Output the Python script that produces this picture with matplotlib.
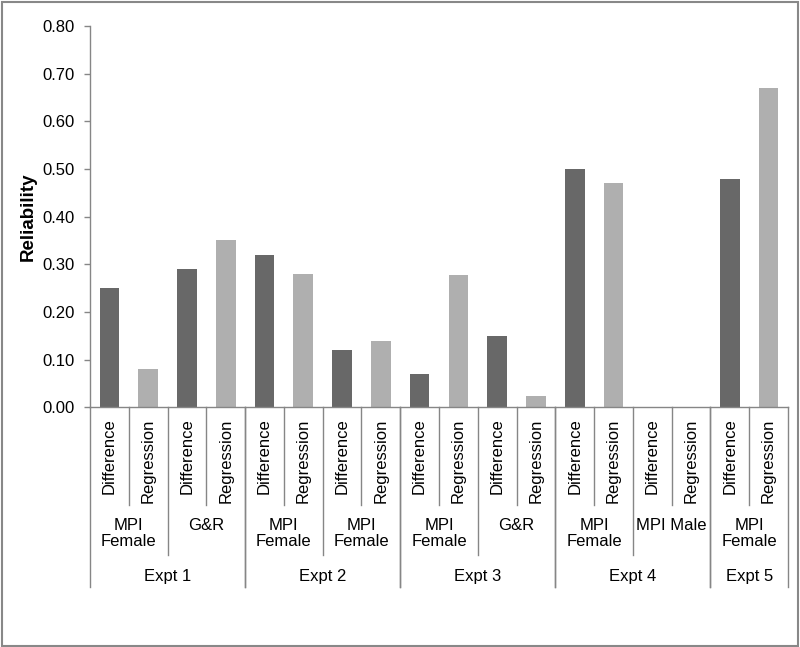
import matplotlib.pyplot as plt
import matplotlib.transforms as mtransforms
from matplotlib.patches import Rectangle

plt.rcParams['font.family'] = ['Liberation Sans', 'DejaVu Sans']

methods = ['Difference', 'Regression'] * 9
reliability = [0.25, 0.08, 0.29, 0.35, 0.32, 0.28, 0.12, 0.14, 0.07, 0.277,
               0.15, 0.024, 0.50, 0.47, 0.0, 0.0, 0.48, 0.67]
groups = ['MPI\nFemale', 'G&R', 'MPI\nFemale', 'MPI\nFemale', 'MPI\nFemale',
          'G&R', 'MPI\nFemale', 'MPI Male', 'MPI\nFemale']
group_expt = [0, 0, 1, 1, 2, 2, 3, 3, 4]
expts = ['Expt 1', 'Expt 2', 'Expt 3', 'Expt 4', 'Expt 5']

dark = '#686868'
light = '#afafaf'
axis_col = '#868686'

fig = plt.figure(figsize=(8, 6.47), dpi=100)
ax = fig.add_axes([0.1125, 0.3705, 0.8725, 0.5893])

colors = [dark if m == 'Difference' else light for m in methods]
x = list(range(len(reliability)))
ax.bar(x, reliability, width=0.51, color=colors)

ax.set_xlim(-0.5, len(x) - 0.5)
ax.set_ylim(0, 0.8)
ax.set_yticks([i / 10 for i in range(9)])
ax.set_yticklabels([f'{i / 10:.2f}' for i in range(9)], fontsize=12)
ax.tick_params(axis='y', length=4, width=1, color=axis_col, pad=7)
ax.set_xticks([])
for s in ['top', 'right']:
    ax.spines[s].set_visible(False)
for s in ['left', 'bottom']:
    ax.spines[s].set_color(axis_col)
    ax.spines[s].set_linewidth(1)

ax.text(-0.0888, 0.5, 'Reliability', rotation=90, ha='center', va='center',
        fontsize=13.5, fontweight='bold', transform=ax.transAxes)

trans = mtransforms.blended_transform_factory(ax.transData, ax.transAxes)

def vline(xpos, ybot):
    ax.plot([xpos, xpos], [0, ybot], transform=trans, color=axis_col,
            lw=1, clip_on=False)

# category labels and separators
for i, m in enumerate(methods):
    ax.text(i, -0.029, m, rotation=90, ha='center', va='top', fontsize=12,
            transform=trans)
for g in range(len(groups)):
    vline(2 * g + 0.5, -0.256)

# group labels and separators
for g, name in enumerate(groups):
    ax.text(2 * g + 0.5, -0.29, name, ha='center', va='top', fontsize=12,
            transform=trans, linespacing=1.1)
for g in range(1, len(groups)):
    if group_expt[g] == group_expt[g - 1]:
        vline(2 * g - 0.5, -0.387)

# expt labels and separators
for e, name in enumerate(expts):
    idx = [2 * g for g in range(len(groups)) if group_expt[g] == e]
    left = idx[0] - 0.5
    right = idx[-1] + 1.5
    ax.text((left + right) / 2, -0.445, name, ha='center', va='center',
            fontsize=12, transform=trans)
    vline(left, -0.471)
    vline(right, -0.471)

fig.patches.append(Rectangle((0.002, 0.002), 0.995, 0.995, transform=fig.transFigure,
                             fill=False, edgecolor='#888888', lw=1.5))

fig.savefig('out.png', dpi=100)
